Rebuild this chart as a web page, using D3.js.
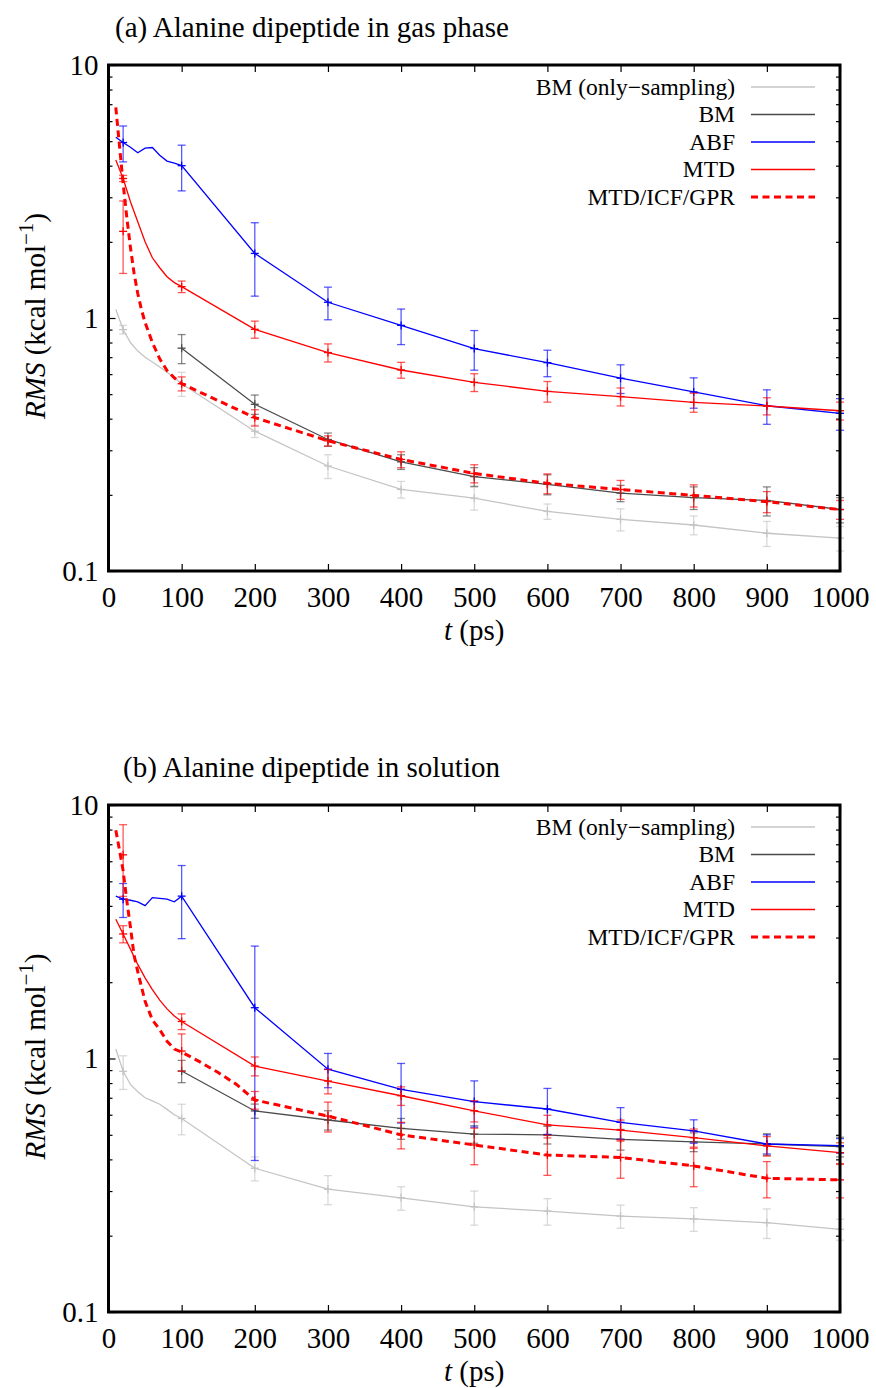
<!DOCTYPE html>
<html>
<head>
<meta charset="utf-8">
<script src="https://cdn.jsdelivr.net/npm/d3@7"></script>
<style>
  body { margin: 0; background: white; }
  svg { display: block; font-family: "Liberation Serif", "Times New Roman", serif; }
</style>
</head>
<body>
<svg id="chart"></svg>
<script>
var w = 876;
var h = 1388;

// ---- data ----
var xTicks = [0, 100, 200, 300, 400, 500, 600, 700, 800, 900, 1000];
var yTicks = [0.1, 1, 10];
var legendNames = ["BM (only\u2212sampling)", "BM", "ABF", "MTD", "MTD/ICF/GPR"];

var tLine = [10, 20, 30, 40, 50, 60, 70, 80, 90, 100, 200, 300, 400, 500, 600, 700, 800, 900, 1000];
var tBM = [100, 200, 300, 400, 500, 600, 700, 800, 900, 1000];
var tErr = [20, 100, 200, 300, 400, 500, 600, 700, 800, 900, 1000];

// (a) gas phase
var gasBMs = [1.08, 0.90, 0.80, 0.74, 0.70, 0.67, 0.64, 0.61, 0.58, 0.55, 0.357, 0.26, 0.21, 0.194, 0.172, 0.16, 0.152, 0.141, 0.135];
var gasBMsErr = [0.035, 0.06, 0.02, 0.028, 0.016, 0.02, 0.012, 0.016, 0.013, 0.016, 0.015];
var gasBM = [0.76, 0.456, 0.331, 0.27, 0.236, 0.22, 0.203, 0.195, 0.19, 0.175];
var gasBMErr = [0.1, 0.04, 0.02, 0.018, 0.02, 0.02, 0.015, 0.02, 0.025, 0.02];
var gasABF = [5.18, 4.94, 4.73, 4.5, 4.69, 4.72, 4.4, 4.17, 4.09, 4.0, 1.80, 1.154, 0.935, 0.757, 0.666, 0.578, 0.51, 0.45, 0.42];
var gasABFErr = [0.8, 0.82, 0.58, 0.17, 0.15, 0.135, 0.08, 0.075, 0.07, 0.07, 0.06];
var gasMTD = [4.21, 3.56, 2.88, 2.40, 2.0, 1.73, 1.58, 1.456, 1.38, 1.33, 0.902, 0.73, 0.623, 0.557, 0.513, 0.489, 0.464, 0.449, 0.43];
var gasMTDErr = [0.1, 0.07, 0.07, 0.06, 0.045, 0.045, 0.048, 0.04, 0.04, 0.035, 0.035];
var gasGPRt = [10, 15, 20, 25, 30, 35, 40, 45, 50, 60, 70, 80, 90, 100, 200, 300, 400, 500, 600, 700, 800, 900, 1000];
var gasGPR = [6.8, 4.8, 3.4, 2.5, 1.9, 1.5, 1.25, 1.08, 0.96, 0.8, 0.69, 0.62, 0.58, 0.55, 0.404, 0.327, 0.276, 0.243, 0.222, 0.21, 0.199, 0.188, 0.175];
var gasGPRMid = [2.2, 0.55, 0.404, 0.327, 0.276, 0.243, 0.222, 0.21, 0.199, 0.188, 0.175];
var gasGPRErr = [0.7, 0.035, 0.03, 0.015, 0.02, 0.02, 0.02, 0.018, 0.02, 0.018, 0.015];

// (b) solution
var solBMs = [1.09, 0.89, 0.79, 0.74, 0.70, 0.68, 0.66, 0.63, 0.60, 0.58, 0.369, 0.305, 0.282, 0.26, 0.25, 0.239, 0.233, 0.225, 0.212];
var solBMsErr = [0.135, 0.08, 0.04, 0.04, 0.03, 0.04, 0.03, 0.025, 0.025, 0.03, 0.02];
var solBM = [0.893, 0.621, 0.572, 0.53, 0.503, 0.5, 0.48, 0.469, 0.46, 0.449];
var solBMErr = [0.09, 0.04, 0.05, 0.05, 0.04, 0.04, 0.045, 0.04, 0.045, 0.04];
var solABF = [4.37, 4.25, 4.21, 4.15, 4.01, 4.31, 4.28, 4.25, 4.15, 4.37, 1.586, 0.907, 0.756, 0.676, 0.632, 0.56, 0.518, 0.46, 0.453];
var solABFErr = [0.65, 1.4, 1.19, 0.14, 0.2, 0.14, 0.13, 0.08, 0.055, 0.04, 0.03];
var solMTD = [3.54, 3.1, 2.7, 2.35, 2.08, 1.87, 1.7, 1.57, 1.47, 1.4, 0.934, 0.815, 0.713, 0.622, 0.547, 0.522, 0.487, 0.452, 0.425];
var solMTDErr = [0.24, 0.1, 0.08, 0.09, 0.06, 0.06, 0.05, 0.05, 0.04, 0.04, 0.04];
var solGPRt = [10, 15, 20, 25, 30, 35, 40, 50, 60, 70, 80, 90, 100, 125, 150, 175, 200, 300, 400, 500, 600, 700, 800, 900, 1000];
var solGPR = [7.95, 6.65, 5.5, 4.2, 3.3, 2.55, 2.2, 1.68, 1.42, 1.3, 1.17, 1.09, 1.06, 0.97, 0.88, 0.79, 0.686, 0.593, 0.5, 0.456, 0.416, 0.407, 0.377, 0.337, 0.332];
var solGPRMid = [6.36, 1.07, 0.686, 0.593, 0.5, 0.456, 0.416, 0.407, 0.377, 0.337, 0.332];
var solGPRErr = [2.0, 0.18, 0.055, 0.08, 0.06, 0.075, 0.07, 0.07, 0.065, 0.055, 0.05];

// ---- styles ----
var colBMs = "#c4c4c4";
var colBM = "#4a4a4a";
var colABF = "#0000ff";
var colMTD = "#ff0000";
var fontSize = 29;

var svg = d3.select("#chart")
	.attr("width", w)
	.attr("height", h)
	.style("background-color", "white");

function lookup(ts, vs, t) {
	return vs[ts.indexOf(t)];
}

function drawPanel(top, bottom, title, titleX, series) {
	var left = 108.5, right = 840;
	var x = d3.scaleLinear().domain([0, 1000]).range([left, right]);
	var y = d3.scaleLog().domain([0.1, 10]).range([bottom, top]);
	var g = svg.append("g");

	// minor log ticks
	var minor = [];
	[0.1, 1].forEach(function (d) {
		for (var k = 2; k <= 9; k++) minor.push(d * k);
	});

	g.append("g").attr("class", "axis")
		.attr("transform", "translate(0," + bottom + ")")
		.call(d3.axisBottom(x).tickValues(xTicks).tickFormat(d3.format("d")).tickSize(-7).tickPadding(15));
	g.append("g").attr("class", "axis")
		.attr("transform", "translate(0," + top + ")")
		.call(d3.axisTop(x).tickValues(xTicks).tickFormat("").tickSize(-7));
	g.append("g").attr("class", "axis")
		.attr("transform", "translate(" + left + ",0)")
		.call(d3.axisLeft(y).tickValues(yTicks).tickFormat(function (d) { return d === 0.1 ? "0.1" : String(d); }).tickSize(-7).tickPadding(10));
	g.append("g").attr("class", "axis")
		.attr("transform", "translate(" + left + ",0)")
		.call(d3.axisLeft(y).tickValues(minor).tickFormat("").tickSize(-4));
	g.append("g").attr("class", "axis")
		.attr("transform", "translate(" + right + ",0)")
		.call(d3.axisRight(y).tickValues(yTicks).tickFormat("").tickSize(-7));
	g.append("g").attr("class", "axis")
		.attr("transform", "translate(" + right + ",0)")
		.call(d3.axisRight(y).tickValues(minor).tickFormat("").tickSize(-4));

	g.selectAll(".axis .domain").remove();
	g.selectAll(".axis line").attr("stroke", "black").attr("stroke-width", 1.2);
	g.selectAll(".axis text")
		.attr("font-family", "'Liberation Serif', serif")
		.attr("font-size", fontSize)
		.attr("fill", "black");

	var line = d3.line()
		.x(function (d) { return x(d[0]); })
		.y(function (d) { return y(d[1]); });

	series.forEach(function (s) {
		var pts = s.t.map(function (t, i) { return [t, s.v[i]]; });
		// error bars
		var bars = g.append("g")
			.attr("stroke", s.color)
			.attr("stroke-opacity", 0.65)
			.attr("stroke-width", 1.3);
		s.et.forEach(function (t, i) {
			var mid = s.mid ? s.mid[i] : lookup(s.t, s.v, t);
			var e = s.err[i];
			var xp = x(t), y1 = y(mid + e), y2 = y(Math.max(mid - e, 0.101));
			bars.append("line").attr("x1", xp).attr("x2", xp).attr("y1", y1).attr("y2", y2);
			bars.append("line").attr("x1", xp - 4).attr("x2", xp + 4).attr("y1", y1).attr("y2", y1);
			bars.append("line").attr("x1", xp - 4).attr("x2", xp + 4).attr("y1", y2).attr("y2", y2);
			var ym = y(mid);
			bars.append("line").attr("x1", xp - 4).attr("x2", xp + 4).attr("y1", ym).attr("y2", ym).attr("stroke-opacity", 1);
			bars.append("line").attr("x1", xp).attr("x2", xp).attr("y1", ym - 4).attr("y2", ym + 4).attr("stroke-opacity", 1);
		});
		g.append("path")
			.datum(pts)
			.attr("d", line)
			.attr("fill", "none")
			.attr("stroke", s.color)
			.attr("stroke-width", s.dash ? 3 : 1.3)
			.attr("stroke-dasharray", s.dash ? "7,4.5" : null);
	});

	// frame
	g.append("rect")
		.attr("x", left).attr("y", top)
		.attr("width", right - left).attr("height", bottom - top)
		.attr("fill", "none")
		.attr("stroke", "black")
		.attr("stroke-width", 3);

	// legend
	var leg = g.append("g").attr("font-size", 23.5);
	series.forEach(function (s, i) {
		var cy = top + 22 + i * 27.5;
		leg.append("text")
			.attr("x", 735).attr("y", cy + 7.8)
			.attr("text-anchor", "end")
			.text(legendNames[i]);
		leg.append("line")
			.attr("x1", 751).attr("x2", 815)
			.attr("y1", cy).attr("y2", cy)
			.attr("stroke", s.color)
			.attr("stroke-width", s.dash ? 3 : 1.3)
			.attr("stroke-dasharray", s.dash ? "7,4.5" : null);
	});

	// title
	svg.append("text")
		.attr("x", titleX).attr("y", top - 28.5)
		.attr("font-size", fontSize)
		.text(title);

	// x label
	var xl = svg.append("text")
		.attr("x", (left + right) / 2).attr("y", bottom + 69)
		.attr("text-anchor", "middle")
		.attr("font-size", fontSize);
	xl.append("tspan").attr("font-style", "italic").text("t");
	xl.append("tspan").text(" (ps)");

	// y label
	var yl = svg.append("text")
		.attr("transform", "translate(45," + ((top + bottom) / 2 - 2) + ") rotate(-90)")
		.attr("text-anchor", "middle")
		.attr("font-size", fontSize);
	yl.append("tspan").attr("font-style", "italic").text("RMS");
	yl.append("tspan").text(" (kcal mol");
	yl.append("tspan").attr("dy", -12).attr("font-size", 21).text("\u22121");
	yl.append("tspan").attr("dy", 12).text(")");
}

drawPanel(65, 571, "(a) Alanine dipeptide in gas phase", 115, [
	{ t: tLine, v: gasBMs, et: tErr, err: gasBMsErr, color: colBMs },
	{ t: tBM, v: gasBM, et: tBM, err: gasBMErr, color: colBM },
	{ t: tLine, v: gasABF, et: tErr, err: gasABFErr, color: colABF },
	{ t: tLine, v: gasMTD, et: tErr, err: gasMTDErr, color: colMTD },
	{ t: gasGPRt, v: gasGPR, et: tErr, mid: gasGPRMid, err: gasGPRErr, color: colMTD, dash: true }
]);

drawPanel(805, 1312, "(b) Alanine dipeptide in solution", 123, [
	{ t: tLine, v: solBMs, et: tErr, err: solBMsErr, color: colBMs },
	{ t: tBM, v: solBM, et: tBM, err: solBMErr, color: colBM },
	{ t: tLine, v: solABF, et: tErr, err: solABFErr, color: colABF },
	{ t: tLine, v: solMTD, et: tErr, err: solMTDErr, color: colMTD },
	{ t: solGPRt, v: solGPR, et: tErr, mid: solGPRMid, err: solGPRErr, color: colMTD, dash: true }
]);
</script>
</body>
</html>
